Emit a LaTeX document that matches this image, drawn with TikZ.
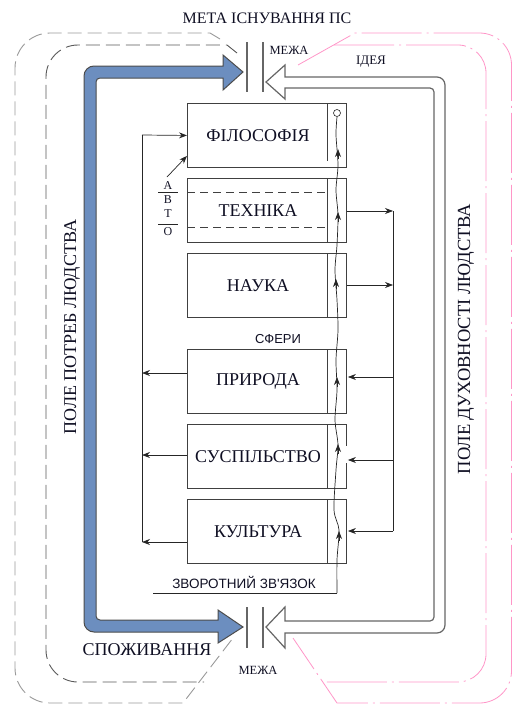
\documentclass[tikz,border=0pt]{standalone}
\usepackage{fontspec}
\setmainfont{Liberation Serif}
\newfontfamily\sansf{Liberation Sans}
\usetikzlibrary{arrows.meta,calc}
\definecolor{bluearrow}{RGB}{108,142,191}
\definecolor{pinkline}{RGB}{255,150,200}
\definecolor{txt}{RGB}{15,15,35}
\begin{document}
\begin{tikzpicture}[x=1pt,y=-1pt,
  box/.style={draw=black!75, line width=0.9pt, minimum width=159pt, minimum height=64pt, inner sep=0pt, anchor=north west},
  lbl/.style={text=txt, font=\fontsize{18}{18}\selectfont, inner sep=0pt},
  small/.style={text=txt, font=\fontsize{13}{13}\selectfont, inner sep=0pt},
  sanslbl/.style={text=txt, font=\sansf\fontsize{13.5}{13.5}\selectfont, inner sep=0pt},
  fb/.style={draw=black!85, line width=0.7pt},
  arr/.style={fb, -{Stealth[length=8pt,width=6pt]}},
  divider/.style={draw=black!75, line width=0.9pt},
  graydash/.style={line width=0.9pt, dash pattern=on 14pt off 6pt},
  pinkdash/.style={draw=pinkline, line width=0.8pt, dash pattern=on 60pt off 5pt on 2pt off 5pt},
  barrier/.style={draw=black!60, line width=1.2pt},
]
\useasboundingbox (0,0) rectangle (513,704);

% outer fields
\draw[graydash, draw=black!40] (220,39) -- (210,33) [rounded corners=35] -- (15,33) -- (15,703) [sharp corners] -- (183,703) -- (233,638);
\draw[graydash, draw=black!65] (237,53) -- (227,45) [rounded corners=32] -- (46,45) -- (46,682) [sharp corners] -- (204,682);
\draw[pinkdash] (298,65) -- (355,33) [rounded corners=32] -- (511.5,33) -- (511.5,703) [sharp corners] -- (337,703) -- (293,638);
\draw[pinkdash] (334,45) [rounded corners=28] -- (486,45) -- (486,682) [sharp corners] -- (322,682);

% title
\node[text=txt, font=\fontsize{16}{16}\selectfont] (title) at (267,18) {МЕТА ІСНУВАННЯ ПС};

% blue arrow (consumption / needs)
\draw[draw=black!70, line width=1pt, fill=bluearrow]
  (243,72) -- (223,55) -- (223,66) [rounded corners=10] -- (84,66) -- (84,632) [sharp corners] -- (218,632)
  -- (218,643) -- (243,627) -- (218,610) -- (218,620) [rounded corners=4] -- (96,620) -- (96,78) [sharp corners]
  -- (223,78) -- (223,90) -- cycle;

% hollow arrow (idea)
\draw[draw=black!60, line width=1.2pt, fill=white]
  (266,82) -- (285,65) -- (285,77) [rounded corners=8] -- (445,77) -- (445,633) [sharp corners] -- (285,633)
  -- (285,648) -- (266,627) -- (285,607) -- (285,621) [rounded corners=4] -- (434,621) -- (434,88) [sharp corners]
  -- (285,88) -- (285,99) -- cycle;

% barriers
\draw[barrier] (247,42) -- (247,92);
\draw[barrier] (263,42) -- (263,92);
\draw[barrier] (247,607) -- (247,648);
\draw[barrier] (263,607) -- (263,648);
\node[small, font=\fontsize{12.5}{12.5}\selectfont] (mezha1) at (289,50) {МЕЖА};
\node[small, font=\fontsize{12.5}{12.5}\selectfont] (mezha2) at (258,670) {МЕЖА};
\node[small] (ideya) at (371,62) {ІДЕЯ};
\node[lbl] (spoz) at (147,650) {СПОЖИВАННЯ};
\node[lbl, rotate=90] (pole1) at (72,327) {ПОЛЕ ПОТРЕБ ЛЮДСТВА};
\node[lbl, rotate=90, font=\fontsize{18.5}{18.5}\selectfont] (pole2) at (466,339) {ПОЛЕ ДУХОВНОСТІ ЛЮДСТВА};

% boxes
\node[box] (f) at (187,103) {};
\node[box] (t) at (187,178) {};
\node[box] (n) at (187,253) {};
\node[box] (p) at (187,349) {};
\node[box] (s) at (187,424) {};
\node[box] (k) at (187,499) {};
\draw[divider] ($(f.north west)+(140,0)$) -- ++(0,58);
\foreach \b in {t,n,p,s,k} \draw[divider] ($(\b.north west)+(140,0)$) -- ++(0,64);
\draw[draw=black!75, line width=0.8pt, dash pattern=on 8pt off 5pt] ($(t.north west)+(0,14)$) -- ++(140,0);
\draw[draw=black!75, line width=0.8pt, dash pattern=on 8pt off 5pt] ($(t.north west)+(0,49)$) -- ++(140,0);
\draw[white, line width=2.5pt] (s.east |- 0,446) -- (s.east |- 0,463);

\node[lbl] (lf) at ($(f.west)+(71,0)$) {ФІЛОСОФІЯ};
\node[lbl] (lt) at ($(t.west)+(71,0)$) {ТЕХНІКА};
\node[lbl] (ln) at ($(n.west)+(71,0)$) {НАУКА};
\node[lbl] (lp) at ($(p.west)+(71,0)$) {ПРИРОДА};
\node[lbl] (ls) at ($(s.west)+(71,0)$) {СУСПІЛЬСТВО};
\node[lbl] (lk) at ($(k.west)+(71,0)$) {КУЛЬТУРА};

\node[sanslbl, font=\sansf\fontsize{13}{13}\selectfont] (sferi) at (278,339) {СФЕРИ};

% feedback wavy line
\draw[fb, line width=0.6pt] (337,113) circle[radius=3.5pt];
\coordinate (wtop) at (337,117);
\coordinate (wbot) at (337,593);
\draw[fb] plot[smooth] coordinates {(337,117) (336,135) (338,165) (336,190) (338,215) (337,245) (335,270) (337,300) (338,330) (336,360) (337,390) (335,420) (338,445) (336,470) (334,510) (339,530) (337,560) (337,593)};
\foreach \yy/\xx in {150/338, 213/338, 280/336, 378/337, 445/338, 532/339}
  \draw[arr] (\xx,\yy+9) -- (\xx,\yy-1);
\coordinate (zvl) at (153,593);
\draw[fb] (wbot) -- (zvl);
\node[sanslbl] (zv) at (244,582) {ЗВОРОТНИЙ ЗВ\textquotesingle ЯЗОК};

% left feedback loop
\coordinate (ltop) at (142,135);
\coordinate (lbot) at (142,542);
\draw[fb] (lbot) -- (ltop);
\draw[arr] (ltop) -- (f.west);
\draw[arr] (p.west |- 0,373) -- (142,373);
\draw[arr] (s.west |- 0,455) -- (142,455);
\draw[arr] (k.west |- 0,542) -- (142,542);

% right feedback loop
\coordinate (rtop) at (393,211);
\coordinate (rbot) at (393,531);
\draw[fb] (rtop) -- (rbot);
\draw[arr] (t.east |- 0,211) -- (rtop);
\draw[arr] (n.east |- 0,285) -- (393,285);
\draw[arr] (393,377) -- ($(p.east |- 0,377)+(1,0)$);
\draw[arr] (393,460) -- ($(s.east |- 0,460)+(1,0)$);
\draw[arr] (rbot) -- ($(k.east |- 0,531)+(1,0)$);

% АВТО
\node[small, font=\fontsize{12}{12}\selectfont] (a1) at (168,186) {А};
\node[small, font=\fontsize{12}{12}\selectfont] (a2) at (168,200) {В};
\node[small, font=\fontsize{12}{12}\selectfont] (a3) at (168,214) {Т};
\node[small, font=\fontsize{12}{12}\selectfont] (a4) at (168,232) {О};
\draw[fb] (158,192.5) -- (178,192.5);
\draw[fb] (158,224.5) -- (178,224.5);
\draw[arr] (167,177) -- ($(f.south west)+(0,-12)$);
\end{tikzpicture}
\end{document}
